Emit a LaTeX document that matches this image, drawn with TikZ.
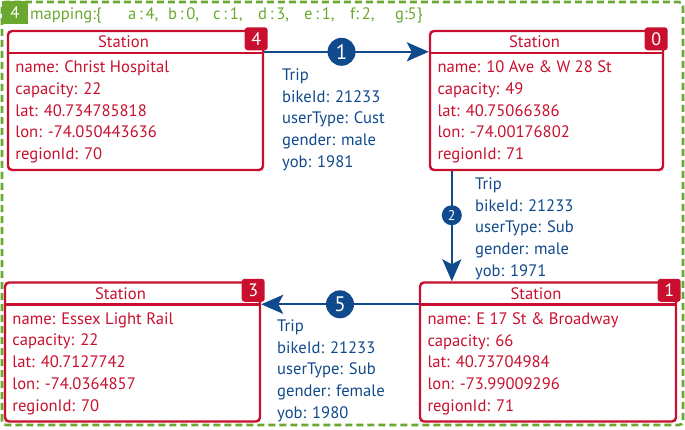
\documentclass[tikz,border=0pt]{standalone}
\usepackage{fontspec}
\setsansfont{PT Sans}
\usetikzlibrary{arrows.meta,calc,positioning}
\definecolor{stationred}{RGB}{200,16,46}
\definecolor{tripblue}{RGB}{16,74,140}
\definecolor{mapgreen}{RGB}{106,168,48}

\begin{document}
\begin{tikzpicture}[font=\sffamily\fontsize{16.6}{21.7}\selectfont, x=1pt, y=1pt,
  station/.style={draw=stationred, line width=2.4pt, rounded corners=4pt,
                  inner sep=0pt, minimum height=139pt},
  badge/.style={fill=stationred, rounded corners=3pt, minimum size=23pt,
                inner sep=0pt, text=white},
  fieldtext/.style={anchor=north west, align=left, inner sep=0pt, text=stationred},
  triptext/.style={anchor=north west, align=left, inner sep=0pt, text=tripblue},
  trip/.style={draw=tripblue, line width=2.3pt,
               -{Stealth[length=22pt,width=19pt,inset=5pt]}},
  tripnum/.style={circle, fill=tripblue, text=white, inner sep=0pt, minimum size=28pt,
                  font=\sffamily\fontsize{21}{21}\selectfont}]

\useasboundingbox (0,0) rectangle (685,429);

% ── Mapping frame ───────────────────────────────────────────────────────────
\draw[mapgreen, line width=2.6pt, dash pattern=on 7pt off 4pt, rounded corners=4pt]
  (2,4) rectangle (683,427);
\node[fill=mapgreen, text=white, minimum width=26pt, minimum height=23pt,
      inner sep=0pt] (maptag) at (15,416.5) {4};
\node[anchor=base west, text=mapgreen, inner sep=0pt] (maptext) at (30,409) {%
  \makebox[98pt][l]{mapping:\{}%
  \makebox[40pt][l]{a\,:\,4,}%
  \makebox[45pt][l]{b\,:\,0,}%
  \makebox[45pt][l]{c\,:\,1,}%
  \makebox[46pt][l]{d\,:\,3,}%
  \makebox[46pt][l]{e\,:\,1,}%
  \makebox[45pt][l]{f:\,2,}%
  g:5\}%
};

% ════════════════════════════════════════════════════════════════════════════
% STATIONS
% ════════════════════════════════════════════════════════════════════════════
\node[station, minimum width=255pt] (stHospital) at (135.5,328.5) {};
\node[station, minimum width=233pt] (stAve)      at (546.5,328.5) {};
\node[station, minimum width=256pt] (stBroadway) at (548,77) {};
\node[station, minimum width=255pt] (stEssex)    at (132.5,77) {};

% header row of every station
\foreach \st in {stHospital,stAve,stBroadway,stEssex}{
  \draw[stationred, line width=2.4pt]
    ([yshift=-23pt]\st.north west) -- ([yshift=-23pt]\st.north east);
  \node[text=stationred] (\st-head) at ([xshift=-12pt,yshift=-12pt]\st.north) {Station};
}

% fields
\node[fieldtext] (stHospital-body) at ([xshift=8.5pt,yshift=-31pt]stHospital.north west) {
  name: Christ Hospital\\capacity: 22\\lat: 40.734785818\\lon: -74.050443636\\regionId: 70
};
\node[fieldtext] (stAve-body) at ([xshift=8.5pt,yshift=-31pt]stAve.north west) {
  name: 10 Ave \& W 28 St\\capacity: 49\\lat: 40.75066386\\lon: -74.00176802\\regionId: 71
};
\node[fieldtext] (stBroadway-body) at ([xshift=8.5pt,yshift=-31pt]stBroadway.north west) {
  name: E 17 St \& Broadway\\capacity: 66\\lat: 40.73704984\\lon: -73.99009296\\regionId: 71
};
\node[fieldtext] (stEssex-body) at ([xshift=8.5pt,yshift=-31pt]stEssex.north west) {
  name: Essex Light Rail\\capacity: 22\\lat: 40.7127742\\lon: -74.0364857\\regionId: 70
};

% ════════════════════════════════════════════════════════════════════════════
% TRIPS
% ════════════════════════════════════════════════════════════════════════════
\draw[trip] ([yshift=-22pt]stHospital.north east) -- ([yshift=-22pt]stAve.north west)
  node[tripnum, pos=0.47] (tripOne) {1};

\coordinate (tripTwoStart) at ([xshift=23pt]stAve.south west);
\draw[trip] (tripTwoStart) -- (tripTwoStart |- stBroadway.north)
  node[tripnum, minimum size=20pt, font=\sffamily\fontsize{14}{14}\selectfont, pos=0.4] (tripTwo) {2};

\draw[trip] ([yshift=-23pt]stBroadway.north west) -- ([yshift=-23pt]stEssex.north east)
  node[tripnum, pos=0.5] (tripFive) {5};

\node[triptext] (tripOneInfo) at (282,360.5) {
  Trip\\bikeId: 21233\\userType: Cust\\gender: male\\yob: 1981
};
\node[triptext] (tripTwoInfo) at (475,251.5) {
  Trip\\bikeId: 21233\\userType: Sub\\gender: male\\yob: 1971
};
\node[triptext] (tripFiveInfo) at (277,109.5) {
  Trip\\bikeId: 21233\\userType: Sub\\gender: female\\yob: 1980
};

% ── Badges (order in the mapping) ───────────────────────────────────────────
\node[badge, font=\sffamily\fontsize{18}{18}\selectfont] (badgeHospital) at ([shift={(-8pt,-9pt)}]stHospital.north east) {4};
\node[badge, font=\sffamily\fontsize{18}{18}\selectfont] (badgeAve)      at ([shift={(-8pt,-9pt)}]stAve.north east) {0};
\node[badge, font=\sffamily\fontsize{18}{18}\selectfont] (badgeBroadway) at ([shift={(-8pt,-9pt)}]stBroadway.north east) {1};
\node[badge, font=\sffamily\fontsize{18}{18}\selectfont] (badgeEssex)    at ([shift={(-8pt,-9pt)}]stEssex.north east) {3};

\end{tikzpicture}
\end{document}
